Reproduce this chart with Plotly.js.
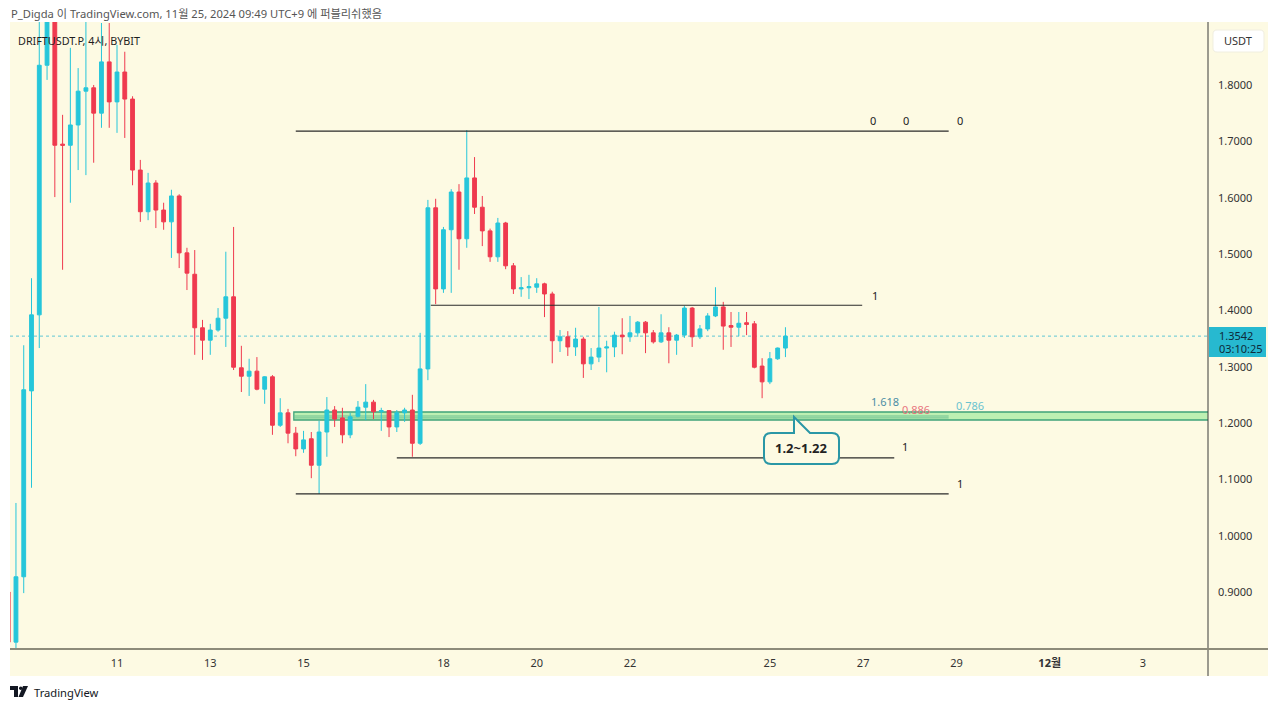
<!DOCTYPE html>
<html>
<head>
<meta charset="utf-8">
<script src="https://cdn.plot.ly/plotly-3.0.1.min.js"></script>
<style>html,body{margin:0;padding:0;background:#fff;}#chart{width:1280px;height:709px;}</style>
</head>
<body>
<div id="chart"></div>
<script>
// ---------- DATA ----------
const times = [
 "2024-11-08 16:00","2024-11-08 20:00",
 "2024-11-09 00:00","2024-11-09 04:00","2024-11-09 08:00","2024-11-09 12:00","2024-11-09 16:00","2024-11-09 20:00",
 "2024-11-10 00:00","2024-11-10 04:00","2024-11-10 08:00","2024-11-10 12:00","2024-11-10 16:00","2024-11-10 20:00",
 "2024-11-11 00:00","2024-11-11 04:00","2024-11-11 08:00","2024-11-11 12:00","2024-11-11 16:00","2024-11-11 20:00",
 "2024-11-12 00:00","2024-11-12 04:00","2024-11-12 08:00","2024-11-12 12:00","2024-11-12 16:00","2024-11-12 20:00",
 "2024-11-13 00:00","2024-11-13 04:00","2024-11-13 08:00","2024-11-13 12:00","2024-11-13 16:00","2024-11-13 20:00",
 "2024-11-14 00:00","2024-11-14 04:00","2024-11-14 08:00","2024-11-14 12:00","2024-11-14 16:00","2024-11-14 20:00",
 "2024-11-15 00:00","2024-11-15 04:00","2024-11-15 08:00","2024-11-15 12:00","2024-11-15 16:00","2024-11-15 20:00",
 "2024-11-16 00:00","2024-11-16 04:00","2024-11-16 08:00","2024-11-16 12:00","2024-11-16 16:00","2024-11-16 20:00",
 "2024-11-17 00:00","2024-11-17 04:00","2024-11-17 08:00","2024-11-17 12:00","2024-11-17 16:00","2024-11-17 20:00",
 "2024-11-18 00:00","2024-11-18 04:00","2024-11-18 08:00","2024-11-18 12:00","2024-11-18 16:00","2024-11-18 20:00",
 "2024-11-19 00:00","2024-11-19 04:00","2024-11-19 08:00","2024-11-19 12:00","2024-11-19 16:00","2024-11-19 20:00",
 "2024-11-20 00:00","2024-11-20 04:00","2024-11-20 08:00","2024-11-20 12:00","2024-11-20 16:00","2024-11-20 20:00",
 "2024-11-21 00:00","2024-11-21 04:00","2024-11-21 08:00","2024-11-21 12:00","2024-11-21 16:00","2024-11-21 20:00",
 "2024-11-22 00:00","2024-11-22 04:00","2024-11-22 08:00","2024-11-22 12:00","2024-11-22 16:00","2024-11-22 20:00",
 "2024-11-23 00:00","2024-11-23 04:00","2024-11-23 08:00","2024-11-23 12:00","2024-11-23 16:00","2024-11-23 20:00",
 "2024-11-24 00:00","2024-11-24 04:00","2024-11-24 08:00","2024-11-24 12:00","2024-11-24 16:00","2024-11-24 20:00",
 "2024-11-25 00:00","2024-11-25 04:00","2024-11-25 08:00"
];
const open = [0.900,0.811,
 0.927,1.257,1.392,1.835,1.930,1.695,
 1.693,1.729,1.789,1.795,1.750,1.841,
 1.770,1.823,1.775,1.649,1.575,1.626,
 1.578,1.557,1.603,1.502,1.464,1.369,
 1.347,1.365,1.386,1.424,1.298,1.283,
 1.292,1.260,1.282,1.196,1.218,1.182,
 1.154,1.172,1.125,1.184,1.223,1.209,
 1.179,1.212,1.228,1.237,1.220,1.222,
 1.193,1.218,1.223,1.164,1.296,1.582,
 1.438,1.543,1.610,1.527,1.635,1.583,
 1.541,1.495,1.555,1.479,1.438,1.440,
 1.441,1.447,1.429,1.346,1.353,1.335,
 1.349,1.305,1.317,1.333,1.335,1.356,
 1.353,1.360,1.379,1.360,1.344,1.360,
 1.347,1.356,1.404,1.353,1.367,1.390,
 1.406,1.373,1.370,1.378,1.376,1.301,
 1.273,1.314,1.333];
const high = [0.905,1.058,
 1.338,1.457,1.930,1.950,1.960,1.747,
 1.866,1.830,1.915,1.800,1.910,1.910,
 1.871,1.859,1.780,1.667,1.644,1.631,
 1.591,1.614,1.606,1.511,1.507,1.383,
 1.376,1.404,1.504,1.548,1.337,1.314,
 1.317,1.283,1.285,1.244,1.225,1.193,
 1.186,1.184,1.204,1.246,1.230,1.227,
 1.218,1.239,1.269,1.241,1.227,1.223,
 1.223,1.227,1.250,1.360,1.596,1.598,
 1.548,1.615,1.624,1.720,1.672,1.603,
 1.545,1.564,1.557,1.484,1.459,1.463,
 1.457,1.449,1.433,1.365,1.363,1.369,
 1.353,1.333,1.406,1.346,1.362,1.386,
 1.390,1.381,1.381,1.365,1.393,1.370,
 1.358,1.408,1.406,1.374,1.395,1.441,
 1.415,1.397,1.397,1.397,1.381,1.315,
 1.326,1.334,1.370];
const low = [0.800,0.800,
 0.898,1.085,1.333,1.809,1.601,1.472,
 1.591,1.649,1.640,1.662,1.724,1.724,
 1.715,1.706,1.622,1.557,1.560,1.546,
 1.543,1.493,1.475,1.436,1.321,1.312,
 1.321,1.362,1.335,1.294,1.255,1.248,
 1.258,1.234,1.179,1.193,1.164,1.141,
 1.147,1.102,1.074,1.140,1.193,1.164,
 1.173,1.210,1.205,1.207,1.186,1.175,
 1.184,1.202,1.140,1.161,1.276,1.411,
 1.431,1.431,1.472,1.511,1.571,1.514,
 1.486,1.486,1.473,1.429,1.424,1.420,
 1.431,1.388,1.306,1.326,1.319,1.319,
 1.280,1.294,1.308,1.290,1.317,1.322,
 1.344,1.353,1.324,1.341,1.342,1.306,
 1.321,1.351,1.335,1.349,1.363,1.388,
 1.330,1.335,1.354,1.356,1.297,1.244,
 1.269,1.312,1.317];
const close = [0.811,0.927,
 1.259,1.392,1.835,1.920,1.693,1.693,
 1.729,1.789,1.795,1.750,1.841,1.770,
 1.823,1.775,1.649,1.575,1.626,1.578,
 1.557,1.603,1.502,1.466,1.369,1.347,
 1.365,1.386,1.424,1.299,1.283,1.292,
 1.260,1.282,1.196,1.218,1.182,1.154,
 1.170,1.125,1.184,1.223,1.207,1.179,
 1.211,1.228,1.237,1.220,1.222,1.193,
 1.218,1.223,1.164,1.296,1.582,1.438,
 1.543,1.610,1.527,1.635,1.583,1.541,
 1.495,1.555,1.479,1.438,1.440,1.442,
 1.447,1.429,1.346,1.353,1.335,1.349,
 1.305,1.317,1.333,1.335,1.356,1.353,
 1.360,1.379,1.360,1.344,1.360,1.347,
 1.356,1.404,1.353,1.367,1.390,1.406,
 1.372,1.370,1.377,1.375,1.299,1.273,
 1.314,1.333,1.3542];

const lastPrice = 1.3542;
const lastPriceText = "1.3542";
const countdownText = "03:10:25";

const priceTicks = [0.9,1.0,1.1,1.2,1.3,1.4,1.5,1.6,1.7,1.8];
const priceTickText = ["0.9000","1.0000","1.1000","1.2000","1.3000","1.4000","1.5000","1.6000","1.7000","1.8000"];
const dateTicks = ["2024-11-11","2024-11-13","2024-11-15","2024-11-18","2024-11-20","2024-11-22","2024-11-25","2024-11-27","2024-11-29","2024-12-01","2024-12-03"];
const dateTickText = ["11","13","15","18","20","22","25","27","29","<b>12월</b>","3"];

// drawn horizontal levels: price, start, end
const levelPrices = [1.718, 1.409, 1.138, 1.074];
const levelStarts = ["2024-11-14 20:00","2024-11-17 17:30","2024-11-17 00:00","2024-11-14 20:00"];
const levelEnds   = ["2024-11-28 20:00","2024-11-26 23:30","2024-11-27 16:00","2024-11-28 20:00"];

// fib zone
const zoneLow = 1.2053, zoneHigh = 1.2195;
const zoneInner = [1.2124, 1.2090];
const zoneStart = "2024-11-14 19:00", zoneInnerEnd = "2024-11-28 20:00", zoneEnd = "2024-12-10 00:00";

const headerText = "P_Digda 이 TradingView.com, 11월 25, 2024 09:49 UTC+9 에 퍼블리쉬했음";
const symbolText = "DRIFTUSDT.P, 4시, BYBIT";
const calloutText = "1.2~1.22";

// ---------- LAYOUT HELPERS ----------
const W=1280,H=709,ML=10,MR=72,MT=22,MB=60;
const PW=W-ML-MR, PH=H-MT-MB;
const px = x => (x-ML)/PW;
const py = y => (H-MB-y)/PH;
const FONT = "Noto Sans, Noto Sans CJK KR, sans-serif";
const BG = "#fdfae3";
const CYAN = "#26c6da", RED = "#ef3a4f";

function pathPx(cmds){
  return cmds.map(c => {
    const L=c[0]; const nums=c.slice(1); const out=[];
    for(let k=0;k<nums.length;k+=2){ out.push(px(nums[k]).toFixed(5)+","+py(nums[k+1]).toFixed(5)); }
    return L + (out.length? out.join(" "):"");
  }).join(" ");
}

const shapes = [];
shapes.push({type:"rect",xref:"paper",yref:"paper",x0:px(10),x1:px(1268),y0:py(676),y1:py(22),fillcolor:BG,line:{width:0},layer:"below"});
shapes.push({type:"rect",xref:"x",yref:"y",x0:zoneStart,x1:zoneEnd,y0:zoneLow,y1:zoneHigh,fillcolor:"#bdf0b2",line:{color:"#3fa37a",width:1.3},layer:"below"});
zoneInner.forEach(v=>shapes.push({type:"line",xref:"x",yref:"y",x0:zoneStart,x1:zoneInnerEnd,y0:v,y1:v,line:{color:"#6cbf92",width:1},layer:"below"}));
shapes.push({type:"line",xref:"paper",yref:"y",x0:0,x1:1,y0:lastPrice,y1:lastPrice,line:{color:"#5fc6d4",width:1,dash:"dot"},layer:"below"});
levelPrices.forEach((p,i)=>shapes.push({type:"line",xref:"x",yref:"y",x0:levelStarts[i],x1:levelEnds[i],y0:p,y1:p,line:{color:"#2a2a2a",width:1.2},layer:"above"}));
shapes.push({type:"line",xref:"paper",yref:"paper",x0:px(1208),x1:px(1208),y0:py(676),y1:py(22),line:{color:"#3a3a3a",width:1}});
shapes.push({type:"line",xref:"paper",yref:"paper",x0:px(10),x1:px(1268),y0:py(649),y1:py(649),line:{color:"#8d8b7a",width:2}});
shapes.push({type:"rect",xref:"paper",yref:"paper",x0:px(1209),x1:px(1266),y0:py(357),y1:py(327),fillcolor:"#27b9d0",line:{width:0}});
shapes.push({type:"path",xref:"paper",yref:"paper",path:pathPx([["M",1217,30],["L",1260,30],["Q",1264,30,1264,34],["L",1264,48],["Q",1264,52,1260,52],["L",1217,52],["Q",1213,52,1213,48],["L",1213,34],["Q",1213,30,1217,30],["Z"]]),fillcolor:"#ffffff",line:{color:"#f0eee0",width:1}});
shapes.push({type:"path",xref:"paper",yref:"paper",path:pathPx([["M",771,433],["L",794,433],["L",794,417],["L",810,433],["L",832,433],["Q",839,433,839,440],["L",839,457],["Q",839,464,832,464],["L",771,464],["Q",764,464,764,457],["L",764,440],["Q",764,433,771,433],["Z"]]),fillcolor:BG,line:{color:"#2a97a6",width:2}});
shapes.push({type:"path",xref:"paper",yref:"paper",path:pathPx([["M",10,686],["L",18,686],["L",18,697],["L",14,697],["L",14,690],["L",10,690],["Z"]]),fillcolor:"#131722",line:{width:0}});
shapes.push({type:"circle",xref:"paper",yref:"paper",x0:px(19),x1:px(22.5),y0:py(690),y1:py(686.5),fillcolor:"#131722",line:{width:0}});
shapes.push({type:"path",xref:"paper",yref:"paper",path:pathPx([["M",23,686],["L",28,686],["L",23,697],["L",18.5,697],["Z"]]),fillcolor:"#131722",line:{width:0}});

function ann(text,x,y,opt){
  return Object.assign({text:text,xref:"paper",yref:"paper",x:px(x),y:py(y),showarrow:false,xanchor:"center",yanchor:"middle",font:{family:FONT,size:11,color:"#222"}},opt||{});
}
const annotations = [
  ann(headerText,9,13,{xanchor:"left",font:{family:FONT,size:11.2,color:"#555"}}),
  ann(symbolText,16,40,{xanchor:"left",font:{family:FONT,size:10.8,color:"#1e1e1e"}}),
  ann("0",873,120), ann("0",906,120), ann("0",960,120),
  ann("1",875,295), ann("1",905,447), ann("1",960,483),
  ann("1.618",885,401,{font:{family:FONT,size:11,color:"#4b8ea5"}}),
  ann("0.886",916,409,{font:{family:FONT,size:11,color:"#e8737d"}}),
  ann("0.786",970,405,{font:{family:FONT,size:11,color:"#6ac3cf"}}),
  ann("<b>"+calloutText+"</b>",801,448,{font:{family:FONT,size:13,color:"#222"}}),
  ann("USDT",1238,41,{font:{family:FONT,size:11,color:"#333"}}),
  ann(lastPriceText,1217,335,{xanchor:"left",font:{family:FONT,size:11,color:"#0d2b3a"}}),
  ann(countdownText,1217,349,{xanchor:"left",font:{family:FONT,size:11,color:"#0d2b3a"}}),
  ann("TradingView",32,692,{xanchor:"left",font:{family:FONT,size:11.2,color:"#131722"}})
];

const trace = {
  type:"candlestick", x:times, open:open, high:high, low:low, close:close,
  increasing:{line:{color:CYAN,width:1},fillcolor:CYAN},
  decreasing:{line:{color:RED,width:1},fillcolor:RED},
  whiskerwidth:0, hoverinfo:"skip", showlegend:false
};

const layout = {
  width:W,height:H,
  margin:{l:ML,r:MR,t:MT,b:MB,pad:0},
  paper_bgcolor:"#ffffff", plot_bgcolor:BG,
  showlegend:false, dragmode:false,
  xaxis:{type:"date",range:["2024-11-08 16:56","2024-12-04 09:28"],rangeslider:{visible:false},
    tickmode:"array",tickvals:dateTicks,ticktext:dateTickText,ticks:"",showgrid:false,zeroline:false,showline:false,
    tickfont:{family:FONT,size:11,color:"#333"},ticklabelstandoff:6,fixedrange:true},
  yaxis:{side:"right",range:[0.7988,1.9118],tickmode:"array",tickvals:priceTicks,ticktext:priceTickText,
    ticks:"",showgrid:false,zeroline:false,showline:false,tickfont:{family:FONT,size:11,color:"#333"},
    ticklabelstandoff:9,fixedrange:true},
  shapes:shapes, annotations:annotations
};

Plotly.newPlot("chart",[trace],layout,{displayModeBar:false,staticPlot:true});
</script>
</body>
</html>
